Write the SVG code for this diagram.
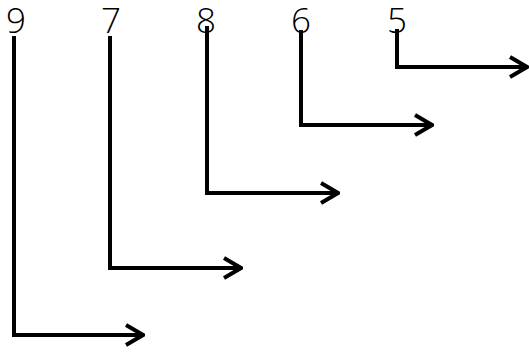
<svg xmlns="http://www.w3.org/2000/svg" width="529" height="354" viewBox="0 0 529 354">
<style>
.lbl{font-family:"Open Sans","Liberation Sans",Arial,sans-serif;font-weight:300;font-size:35px;fill:#000;text-anchor:middle}
.ln{fill:none;stroke:#000;stroke-width:4}
</style>
<defs>
<marker id="ah" viewBox="0 0 20 24" refX="18" refY="12" markerWidth="20" markerHeight="24" markerUnits="userSpaceOnUse" orient="auto">
<path d="M1,2 L18,12 L1,22" fill="none" stroke="#000" stroke-width="4"/>
</marker>
</defs>
<rect width="529" height="354" fill="#fff"/>
<g id="n9"><text class="lbl" x="16" y="33">9</text></g>
<g id="n7"><text class="lbl" x="111" y="33">7</text></g>
<g id="n8"><text class="lbl" x="206" y="33">8</text></g>
<g id="n6"><text class="lbl" x="301" y="33">6</text></g>
<g id="n5"><text class="lbl" x="397" y="33">5</text></g>
<g id="connectors">
<path class="ln" marker-end="url(#ah)" d="M14,36 V335 H143"/>
<path class="ln" marker-end="url(#ah)" d="M110,36 V268 H241"/>
<path class="ln" marker-end="url(#ah)" d="M207,26 V193 H338"/>
<path class="ln" marker-end="url(#ah)" d="M301,30 V125 H432"/>
<path class="ln" marker-end="url(#ah)" d="M397,29 V67 H527"/>
</g>
</svg>
